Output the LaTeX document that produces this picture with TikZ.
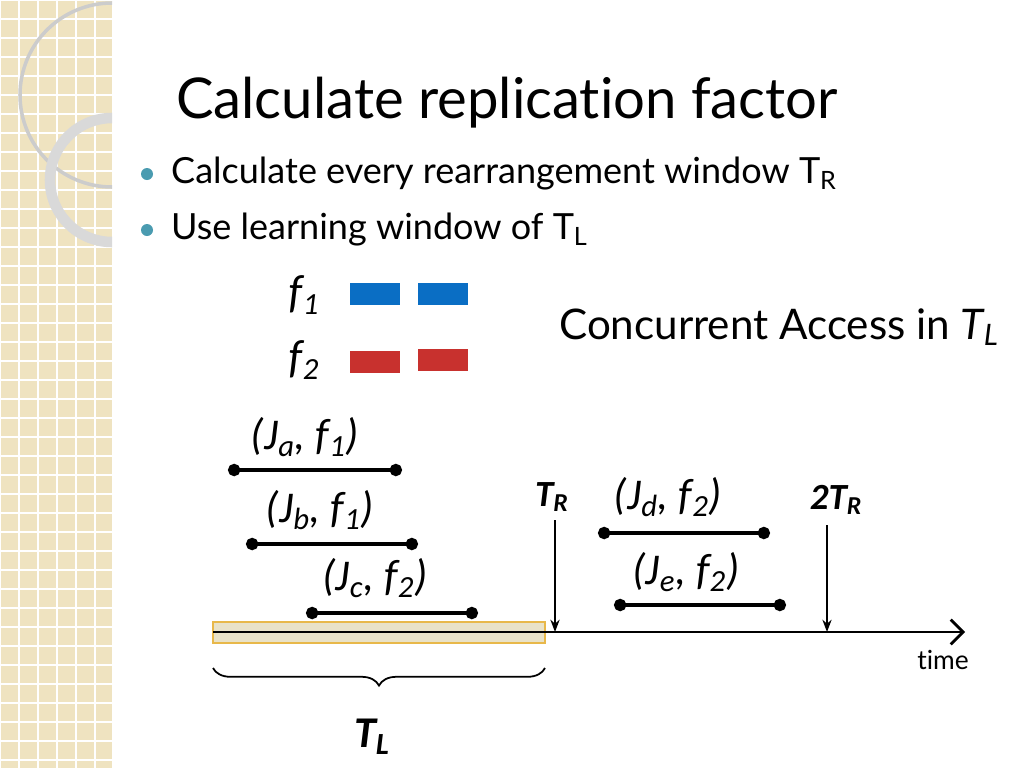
\documentclass[tikz,border=0pt]{standalone}
\usepackage{fontspec}
\setmainfont{Lato}[Ligatures=NoCommon]
\newfontfamily\labfont{Carlito}
\usetikzlibrary{arrows.meta,decorations.pathreplacing}
\definecolor{beige}{HTML}{EFE3C0}
\definecolor{bulletc}{HTML}{4A9BB0}
\definecolor{fblue}{HTML}{0A6EC4}
\definecolor{fred}{HTML}{C8312E}
\definecolor{tlfill}{HTML}{E9E2C8}
\definecolor{tledge}{HTML}{E8B84A}
\tikzset{
  job/.style={line width=2pt,{Circle[length=7pt]}-{Circle[length=7pt]}},
  joblab/.style={font=\labfont\itshape\fontsize{25}{27}\selectfont},
  timelab/.style={font=\labfont\bfseries\itshape\fontsize{21}{23}\selectfont},
  bul/.style={font=\fontsize{20.5}{22}\selectfont,anchor=west},
  fbox/.style={minimum width=50*0.02cm,minimum height=22*0.02cm,inner sep=0pt}
}
\begin{document}
\begin{tikzpicture}[x=0.02cm,y=-0.02cm]
\useasboundingbox (0,0) rectangle (1024,768);
% side strip
\fill[beige] (0,0) rectangle (112,768);
\foreach \g in {0,19,...,760} {
  \draw[white,line width=0.8pt] (\g,0) -- (\g,768);
  \draw[white,line width=0.8pt] (0,\g) -- (112,\g);
}
\begin{scope}
\clip (0,0) rectangle (112,768);
\draw[black!20,line width=2pt] (112,95) circle (92);
\draw[white!85!black,line width=6pt] (112,180) circle (62);
\end{scope}
% title and bullets
\node (title)[anchor=base west,font=\fontsize{32}{36}\selectfont] at (170,118) {Calculate replication factor};
\fill[bulletc] (147,174) circle (6);
\fill[bulletc] (147,230) circle (6);
\node (b1)[bul] at (165,174) {Calculate every rearrangement window T\textsubscript{R}};
\node (b2)[bul] at (165,230) {Use learning window of T\textsubscript{L}};
% legend
\node (f1)[joblab] at (304,295) {$\mathit{f}$\textsubscript{1}};
\node (f2)[joblab] at (304,360) {$\mathit{f}$\textsubscript{2}};
\node (f1a)[fbox,fill=fblue] at (375,294) {};
\node (f1b)[fbox,fill=fblue] at (443,294) {};
\node (f2a)[fbox,fill=fred] at (375,362) {};
\node (f2b)[fbox,fill=fred] at (443,360) {};
\node (conc)[font=\fontsize{24}{26}\selectfont] at (779,327) {Concurrent Access in \textit{T\textsubscript{L}}};
% learning window
\fill[tlfill,draw=tledge,line width=0.8pt] (213,622) rectangle (545,643);
\coordinate (t0) at (213,632);
\coordinate (tend) at (965,632);
\draw[line width=1.6pt,-{Straight Barb[length=7pt]}] (t0) -- (tend);
\node (time)[font=\fontsize{15}{17}\selectfont] at (943,660) {time};
% jobs
\coordinate (ja0) at (228,470); \coordinate (ja1) at (402,470);
\coordinate (jb0) at (246,544); \coordinate (jb1) at (418,544);
\coordinate (jc0) at (306,613); \coordinate (jc1) at (478,613);
\coordinate (jd0) at (598,533); \coordinate (jd1) at (770,533);
\coordinate (je0) at (614,605); \coordinate (je1) at (786,605);
\foreach \j in {ja,jb,jc,jd,je}
  \draw[job] (\j0) -- (\j1);
\node (la)[joblab] at (305,437) {(\textit{J\textsubscript{a}, f\textsubscript{1}})};
\node (lb)[joblab] at (320,510) {(\textit{J\textsubscript{b}, f\textsubscript{1}})};
\node (lc)[joblab] at (375,578) {(\textit{J\textsubscript{c}, f\textsubscript{2}})};
\node (ld)[joblab] at (668,497) {(\textit{J\textsubscript{d}, f\textsubscript{2}})};
\node (le)[joblab] at (686,572) {(\textit{J\textsubscript{e}, f\textsubscript{2}})};
% rearrangement marks
\node (tr)[timelab] at (552,497) {T\textsubscript{R}};
\node (tr2)[timelab] at (836,500) {2T\textsubscript{R}};
\coordinate (tra) at (555,520); \coordinate (trb) at (555,632);
\coordinate (tr2a) at (827,525); \coordinate (tr2b) at (827,632);
\draw[line width=1pt,-{Stealth[length=7pt]}] (tra) -- (trb);
\draw[line width=1pt,-{Stealth[length=7pt]}] (tr2a) -- (tr2b);
% brace
\coordinate (br0) at (545,668); \coordinate (br1) at (213,668);
\draw[line width=1pt,decorate,decoration={brace,amplitude=10pt}] (br0) -- (br1);
\node (tl)[timelab,font=\labfont\bfseries\itshape\fontsize{25}{27}\selectfont] at (372,737) {T\textsubscript{L}};
\end{tikzpicture}
\end{document}
